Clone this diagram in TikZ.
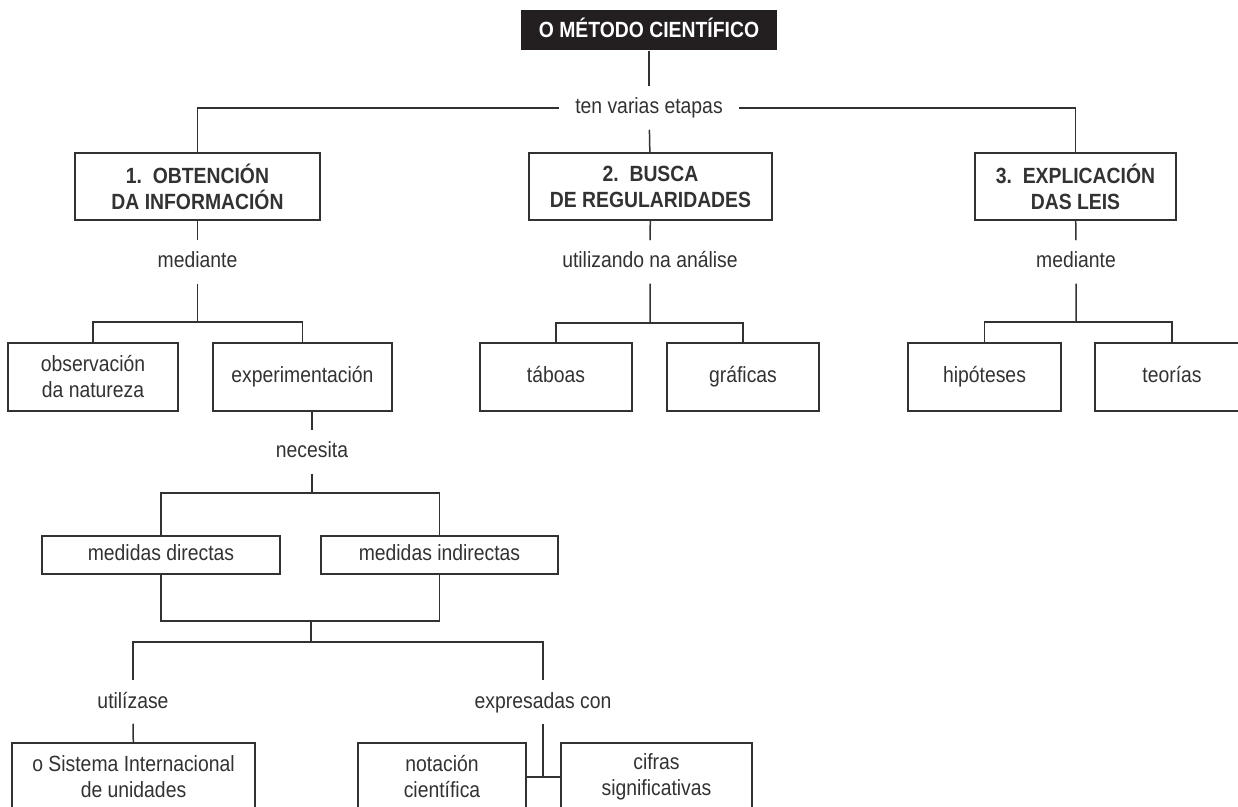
\documentclass[tikz,border=0pt]{standalone}
\usepackage{fontspec}
\setmainfont{Liberation Sans}[FakeStretch=0.88]
\usetikzlibrary{positioning}
\definecolor{ink}{RGB}{50,50,50}
\definecolor{headfill}{RGB}{35,31,32}

\begin{document}
\begin{tikzpicture}[x=0.5pt, y=-0.5pt, line width=0.75pt, draw=ink, text=ink,
    every node/.style={font=\fontsize{11}{13}\selectfont},
    box/.style={draw=ink, align=center, inner sep=0pt, minimum height=34pt},
    single/.style={box, text height=8pt, text depth=2.2pt},
    lowbox/.style={single, minimum height=19pt},
    stage/.style={box, minimum height=33.5pt, font=\fontsize{11}{13}\selectfont\bfseries},
    head/.style={fill=headfill, text=white, inner sep=0pt, minimum width=128pt,
        minimum height=20pt, text height=8pt, text depth=0.5pt,
        font=\fontsize{11}{13}\selectfont\bfseries},
    lbl/.style={inner xsep=8pt, inner ysep=5.5pt, text height=8pt, text depth=2pt}]
    \useasboundingbox (0,0) rectangle (1238,807);
    \clip (0,0) rectangle (1238,807);
    \node[head] (title) at (649,30) {O MÉTODO CIENTÍFICO};
    \node[lbl] (etapas) at (649,108) {ten varias etapas};
    \node[stage, minimum width=122.5pt] (b1) at (197.5,186.5) {1.~~OBTENCIÓN\\DA INFORMACIÓN};
    \node[stage, minimum width=121.5pt] (b2) at (650.5,186.5) {2.~~BUSCA\\DE REGULARIDADES};
    \node[stage, minimum width=100.5pt] (b3) at (1075.5,186.5) {3.~~EXPLICACIÓN\\DAS LEIS};
    \node[lbl] (med1) at (197.5,262) {mediante};
    \node[lbl] (util) at (650,262) {utilizando na análise};
    \node[lbl] (med3) at (1076,262) {mediante};
    \node[box, minimum width=85pt] (obs) at (93,377) {observación\\da natureza};
    \node[single, minimum width=89.5pt] (exp) at (302.5,377) {experimentación};
    \node[single, minimum width=76pt] (tab) at (556,377) {táboas};
    \node[single, minimum width=76pt] (graf) at (743,377) {gráficas};
    \node[single, minimum width=76.5pt] (hip) at (984.5,377) {hipóteses};
    \node[single, minimum width=77pt] (teo) at (1172,377) {teorías};
    \node[lbl] (necesita) at (312,452) {necesita};
    \node[lowbox, minimum width=119pt] (md) at (161,555) {medidas directas};
    \node[lowbox, minimum width=118.5pt] (mi) at (439.5,555) {medidas indirectas};
    \node[lbl] (utilizase) at (133,702) {utilízase};
    \node[lbl] (expresadas) at (543,702) {expresadas con};
    \node[box, minimum width=121.5pt] (si) at (133.5,777) {o Sistema Internacional\\de unidades};
    \node[box, minimum width=84pt] (not) at (442,777) {notación\\científica};
    \node[box, minimum width=95.5pt] (cif) at (656.5,777) {cifras\\significativas};
    \coordinate (j1) at (197.5,322);
    \coordinate (j2) at (312,493);
    \coordinate (j3) at (311,621);
    \coordinate (j4) at (311,642);
    \coordinate (j5) at (543,777);
    \coordinate (j6) at (650,323);
    \coordinate (j7) at (1076,322);
    \draw (title) -- (etapas);
    \draw (b1) |- (etapas) -| (b3);
    \draw (etapas) -- (b2);
    \draw (b1) -- (med1) -- (j1);
    \draw (obs) |- (j1) -| (exp);
    \draw (b2) -- (util) -- (j6);
    \draw (tab) |- (j6) -| (graf);
    \draw (b3) -- (med3) -- (j7);
    \draw (hip) |- (j7) -| (teo);
    \draw (necesita |- exp.south) -- (necesita) -- (j2);
    \draw (md) |- (j2) -| (mi);
    \draw (md) |- (j3) -| (mi);
    \draw (j3) -- (j4);
    \draw (utilizase) |- (j4) -| (expresadas);
    \draw (utilizase) -- (si);
    \draw (expresadas) -- (j5);
    \draw (not) -- (cif);
\end{tikzpicture}
\end{document}
